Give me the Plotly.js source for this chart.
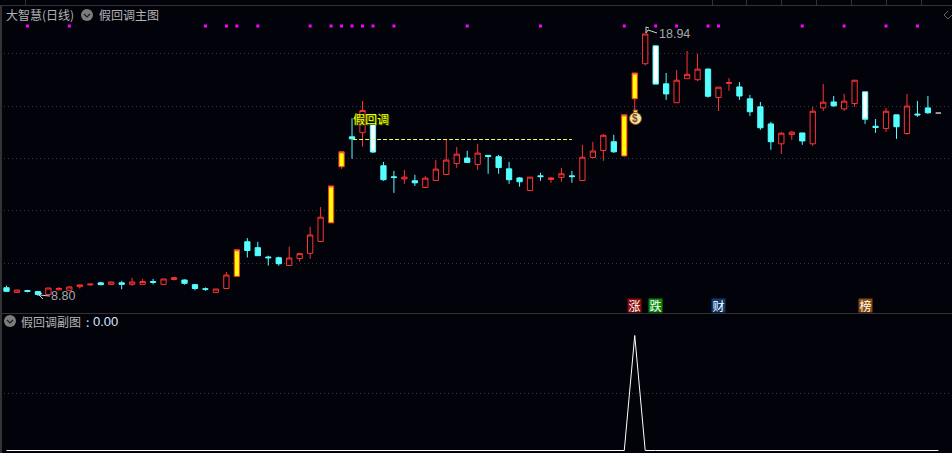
<!DOCTYPE html>
<html><head><meta charset="utf-8">
<script src="https://cdn.plot.ly/plotly-3.0.1.min.js"></script>
<style>html,body{margin:0;padding:0;background:#02020a}#c{width:952px;height:453px}</style>
</head><body><div id="c"></div>
<script>
const open_ = [9.12,8.94,9.01,8.97,8.86,9.04,9.02,9.16,9.23,9.31,9.25,9.31,9.25,9.25,9.36,9.25,9.44,9.42,9.24,9.08,8.94,9.09,9.56,10.90,10.67,10.31,10.28,9.98,10.25,10.45,10.91,11.63,13.80,14.96,15.12,15.45,13.84,13.41,13.33,13.26,13.00,13.27,13.50,13.93,14.14,13.89,14.24,14.19,13.72,13.37,12.88,13.45,13.31,13.39,13.45,13.27,14.16,14.43,14.77,14.22,16.43,17.79,18.48,17.01,16.28,17.21,17.17,17.58,16.48,17.03,16.89,16.43,16.12,15.46,14.69,15.05,15.11,14.69,16.08,16.31,16.04,16.25,16.70,15.37,15.28,15.81,15.09,15.84,16.08,15.88];
const high_ = [9.20,9.03,9.04,8.99,9.11,9.15,9.17,9.23,9.26,9.35,9.36,9.39,9.50,9.46,9.46,9.46,9.53,9.44,9.26,9.13,9.07,9.73,10.59,11.04,10.90,10.36,10.32,10.71,10.47,11.48,12.24,13.06,14.38,15.68,16.35,15.45,13.99,13.64,13.68,13.49,13.44,14.07,14.87,14.57,14.42,14.69,14.26,14.26,13.99,13.40,13.40,13.57,13.40,13.76,13.64,14.65,14.77,15.07,15.04,15.81,17.43,18.94,18.48,17.43,17.55,18.28,18.17,17.61,16.88,17.23,17.08,16.58,16.31,15.54,15.15,15.19,15.11,16.12,17.01,16.54,16.62,17.15,16.70,15.65,16.08,15.81,16.62,16.35,16.54,15.88];
const low_ = [8.98,8.94,8.94,8.80,8.86,9.02,8.99,9.09,9.20,9.21,9.23,9.06,9.20,9.25,9.25,9.25,9.40,9.24,9.02,9.00,8.94,9.09,9.56,10.29,10.36,9.98,9.97,9.98,10.13,10.24,10.91,11.63,13.72,14.11,14.58,14.33,13.26,12.79,13.14,13.06,13.00,13.27,13.50,13.76,13.97,13.68,13.53,13.53,13.14,13.03,12.88,13.26,13.18,13.22,13.18,13.27,14.16,14.03,14.34,14.19,15.93,17.72,17.00,16.39,16.28,17.21,17.12,16.48,15.96,16.74,16.39,15.77,15.23,14.46,14.30,14.84,14.65,14.61,15.96,16.12,15.96,16.12,15.46,15.11,15.15,14.88,15.04,15.73,15.85,15.88];
const close_ = [8.98,9.03,8.98,8.86,9.11,9.09,9.15,9.23,9.26,9.24,9.34,9.25,9.34,9.36,9.33,9.46,9.51,9.29,9.09,9.06,9.07,9.61,10.59,10.56,10.36,10.28,10.05,10.27,10.44,11.16,11.85,13.06,14.38,14.88,15.98,14.37,13.30,13.39,13.40,13.18,13.36,13.71,14.06,14.29,13.97,14.33,14.20,13.77,13.30,13.22,13.40,13.42,13.37,13.53,13.42,14.17,14.41,15.02,14.38,15.81,17.43,18.94,17.00,16.62,17.15,17.38,17.58,16.53,16.88,17.06,16.54,15.93,15.31,14.77,15.10,15.14,14.80,15.95,16.30,16.16,16.34,17.15,15.64,15.32,15.95,15.35,16.15,15.81,15.89,15.88];
const kindList = ['d','u','d','d','u','u','u','u','u','d','u','d','u','u','d','u','u','d','d','d','u','u','y','d','d','d','d','u','u','u','u','y','y','d','u','w','d','d','u','d','u','u','u','u','d','u','d','d','d','d','u','d','u','u','d','u','u','u','d','y','y','u','w','d','u','u','u','d','u','u','d','d','d','d','u','u','d','u','u','d','u','u','w','d','u','d','u','d','d','g'];
const signalDays = [2,6,19,21,22,24,29,31,32,33,34,35,37,44,51,59,62,64,67,68,76,80,84,87];
const signalPrice = 19.25;
const subValues = open_.map((_, i) => 0);
subValues[60] = 1;
const tagDays = [60,62,68,82];
const tagLabels = ['涨','跌','财','榜'];
const tagColors = ['#8c0a0a','#0b8a0b','#0d3a70','#8a4a0a'];
const priceGrid = [18.20,16.13,14.12,12.09,10.04];
const pullbackLine = {from:33.1, to:54, price:14.855};

const W=952,H=453,BG='#02020a',SEP=313;
const days = open_.map((_, i) => i);
const px = x => x/W, py = y => 1-y/H;
const pick = (arr,k) => arr.filter((_,i)=>kindList[i]===k);
function candle(k, lineInc, fillInc, lineDec, fillDec){
  return {type:'candlestick', x:pick(days,k), open:pick(open_,k), high:pick(high_,k), low:pick(low_,k), close:pick(close_,k),
    whiskerwidth:0, xaxis:'x', yaxis:'y', showlegend:false, hoverinfo:'skip',
    increasing:{line:{color:lineInc,width:1},fillcolor:fillInc},
    decreasing:{line:{color:lineDec,width:1},fillcolor:fillDec}};
}
const RED='#ff3333',CY='#54ffff';
const traces = [
  candle('u',RED,BG,CY,CY),
  candle('d',RED,BG,CY,CY),
  candle('y',RED,'#ffff00',RED,'#ffff00'),
  candle('w',CY,'#ffffff',CY,'#ffffff'),
  candle('g','#aaaaaa','#aaaaaa','#aaaaaa','#aaaaaa'),
  {type:'scatter',mode:'lines',x:[pullbackLine.from,pullbackLine.to],y:[pullbackLine.price,pullbackLine.price],
   line:{color:'#ffff66',width:1,dash:'4px,2px'},showlegend:false,hoverinfo:'skip',xaxis:'x',yaxis:'y'},
  {type:'scatter',mode:'markers',x:signalDays,y:signalDays.map(()=>signalPrice),
   marker:{symbol:'square',size:3,color:'#ff00ff',line:{width:0}},showlegend:false,hoverinfo:'skip',xaxis:'x',yaxis:'y'},
  {type:'scatter',mode:'lines',x:days,y:subValues,line:{color:'#ffffff',width:1},showlegend:false,hoverinfo:'skip',xaxis:'x',yaxis:'y2'}
];
const F='"Noto Sans CJK SC",sans-serif', G='#b4b4b4', LS='"Liberation Sans",sans-serif';
function txt(x,y,t,c,s,extra){return Object.assign({xref:'paper',yref:'paper',x:px(x),y:py(y),text:t,showarrow:false,xanchor:'left',yanchor:'middle',font:{family:F,size:s||12,color:c||G},borderpad:0},extra||{});}
function icon(cx,cy){
  return [
    {type:'circle',xref:'paper',yref:'paper',x0:px(cx-6),x1:px(cx+6),y0:py(cy-6),y1:py(cy+6),fillcolor:'#7d7d7d',line:{width:0}},
    {type:'path',xref:'paper',yref:'paper',path:`M ${px(cx-3)} ${py(cy-1)} L ${px(cx)} ${py(cy+2)} L ${px(cx+3)} ${py(cy-1)}`,line:{color:'#1c1c1c',width:1.2}}
  ];
}
function pth(pts,color,w){
  return {type:'path',xref:'paper',yref:'paper',path:pts.map((p,i)=>(i?'L ':'M ')+px(p[0])+' '+py(p[1])).join(' '),line:{color,width:w||1}};
}
const sepC='#333333';
const shapes=[
  pth([[0,5.5],[W,5.5]],sepC),pth([[0,313.5],[W,313.5]],sepC,1),pth([[1,5],[1,H]],sepC,2),
  pth([[25.5,0],[25.5,5]],sepC),
  ...[712,746,781,816,851,886,921].map(x=>pth([[x+.5,0],[x+.5,5]],sepC)),
  pth([[948,11],[944,15],[948,19],[952,15]],'#666666'),
  ...icon(87,15),...icon(10,321),
  pth([[50,296],[39,295],[42,293]],'#cfcfcf'),pth([[39,295],[43,299]],'#cfcfcf'),
  pth([[657,33],[648,30],[646,33]],'#cfcfcf'),pth([[646,27],[646,33]],'#cfcfcf'),pth([[646,27],[649,28]],'#cfcfcf'),
  {type:'path',xref:'paper',yref:'paper',path:`M ${px(633)} ${py(110)} L ${px(638)} ${py(110)} L ${px(637)} ${py(113)} L ${px(634)} ${py(113)} Z`,fillcolor:'#f2d488',line:{color:'#7a4a10',width:1}},
  {type:'circle',xref:'paper',yref:'paper',x0:px(629.5),x1:px(641.5),y0:py(112.5),y1:py(124.5),fillcolor:'#f6e2a8',line:{color:'#8a5a18',width:1}}
];
const ann=[
  txt(5,15,'大智慧(日线)'),txt(98,15,'假回调主图'),
  txt(20,321,'假回调副图'),txt(85,321,':','#cfe0ff'),txt(92,321,'0.00','#d8e8ff',12,{font:{family:LS,size:13,color:'#d8e8ff'}}),
  txt(351.5,118,'假回调','#ffff00',12,{font:{family:F,size:12,color:'#ffff00',shadow:'1px 1px 0 #2e6a00'}}),
  {xref:'x',yref:'y',x:high_.indexOf(18.94),y:18.94,xshift:12,yshift:0,text:'18.94',showarrow:false,xanchor:'left',yanchor:'middle',font:{family:LS,size:12.5,color:'#a8a8a8'}},
  {xref:'x',yref:'y',x:low_.indexOf(8.80),y:8.80,xshift:11,text:'8.80',showarrow:false,xanchor:'left',yanchor:'middle',font:{family:LS,size:12.5,color:'#a8a8a8'}},
  {xref:'x',yref:'paper',x:60,y:py(118.5),text:'$',showarrow:false,font:{family:LS,size:10,color:'#7a4a10',weight:700},xanchor:'center',yanchor:'middle'},
  ...tagDays.map((d,i)=>({xref:'x',yref:'paper',x:d,y:py(305.5),text:tagLabels[i],showarrow:false,bgcolor:tagColors[i],width:13,height:13,borderpad:0,xanchor:'center',yanchor:'middle',font:{family:F,size:12,color:'#ffffff'}}))
];
const layout={width:W,height:H,margin:{l:0,r:0,t:0,b:0},paper_bgcolor:BG,plot_bgcolor:BG,showlegend:false,boxgap:0.28,boxmode:'overlay',
  xaxis:{range:[-0.621,90.3],visible:false,rangeslider:{visible:false},fixedrange:true,domain:[0,1]},
  yaxis:{domain:[1-SEP/H,1],range:[8.142,20.255],tickvals:priceGrid,showticklabels:false,showgrid:true,gridcolor:'#3a3a3a',griddash:'1px,3px',gridwidth:1,zeroline:false,showline:false,ticks:''},
  yaxis2:{domain:[0,1-SEP/H],range:[-0.02174,1.19565],tickvals:[0.5],showticklabels:false,showgrid:true,gridcolor:'#3a3a3a',griddash:'1px,3px',gridwidth:1,zeroline:false,showline:false,ticks:''},
  shapes,annotations:ann};
Plotly.newPlot('c',traces,layout,{displayModeBar:false,staticPlot:true});
</script></body></html>
